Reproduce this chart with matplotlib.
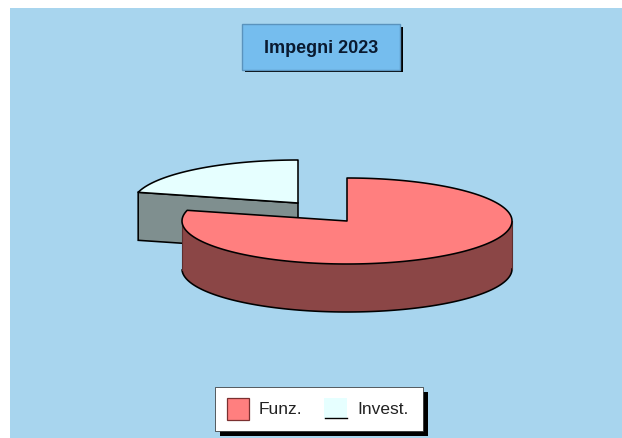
import matplotlib
matplotlib.use('Agg')
import matplotlib.pyplot as plt
from matplotlib.patches import Polygon, Rectangle
import numpy as np

labels = ['Funz.', 'Invest.']
values = [79, 21]
title = 'Impegni 2023'
colors = ['#ff7f7f', '#e6ffff']
side_colors = ['#8b4646', '#7f8f8f']

RX, RY, DEPTH = 165, 43, 48
LW = 1.15
# centres of the top faces in pixels, the small slice is pulled out
centers = [(347, 222), (298, 204)]

plt.rcParams['font.family'] = ['Liberation Sans', 'DejaVu Sans']

fig = plt.figure(figsize=(6.22, 4.39), dpi=100, facecolor='white')
ax = fig.add_axes([0, 0, 1, 1])
ax.set_xlim(0, 622)
ax.set_ylim(439, 0)
ax.axis('off')

ax.add_patch(Rectangle((10, 9), 612, 430, fc='#a8d5ee', ec='none', zorder=0))


def ell(cx, cy, a):
    # a in degrees clockwise from the top of the pie
    a = np.radians(a)
    return cx + RX * np.sin(a), cy - RY * np.cos(a)


def draw_slice(i, start, end, z):
    cx, cy = centers[i]
    a = np.linspace(start, end, 200)
    x, y = ell(cx, cy, a)

    # outer wall, only the part facing us
    front = (a >= 90) & (a <= 270)
    if front.any():
        xf, yf = x[front], y[front]
        wall = np.r_[np.c_[xf, yf], np.c_[xf, yf + DEPTH][::-1]]
        ax.add_patch(Polygon(wall, fc=side_colors[i], ec='none', zorder=z))
        ax.plot(xf, yf + DEPTH, color='black', lw=LW, zorder=z)
        ax.plot([xf[0], xf[0]], [yf[0], yf[0] + DEPTH], color='#5e2e2e', lw=0.8, zorder=z)
        ax.plot([xf[-1], xf[-1]], [yf[-1], yf[-1] + DEPTH], color='#5e2e2e', lw=0.8, zorder=z)

    # cut face of the pulled out slice
    if i == 1:
        xs, ys = x[0], y[0]
        cut = [(cx, cy), (xs, ys), (xs, ys + DEPTH), (cx, cy + DEPTH)]
        ax.add_patch(Polygon(cut, fc=side_colors[i], ec='black', lw=LW, zorder=z))

    top = np.r_[[(cx, cy)], np.c_[x, y]]
    ax.add_patch(Polygon(top, fc=colors[i], ec='black', lw=LW, joinstyle='round', zorder=z + 1))


angles = np.cumsum([0] + values) / sum(values) * 360
draw_slice(1, angles[1], angles[2], 2)
draw_slice(0, angles[0], angles[1], 4)

# title box
ax.add_patch(Rectangle((245, 28), 158, 45, fc='black', ec='none', zorder=6))
ax.add_patch(Rectangle((242, 25), 158, 46, fc='#75bdee', ec='#5a93bd', lw=1, zorder=7))
ax.text(321, 48.5, title, fontsize=13, fontweight='bold', color='#0a1a30',
        ha='center', va='center', zorder=8)

# legend box
ax.add_patch(Rectangle((220, 393), 208, 44, fc='black', ec='none', zorder=6))
ax.add_patch(Rectangle((215, 388), 208, 44, fc='white', ec='#222222', lw=0.5, zorder=7))
ax.add_patch(Rectangle((227, 399), 22, 22, fc=colors[0], ec='#7a3030', lw=0.9, zorder=8))
ax.add_patch(Rectangle((324, 399), 23, 21, fc=colors[1], ec='none', zorder=8))
ax.plot([325, 347], [419.5, 419.5], color='black', lw=1, zorder=9)
ax.text(259, 410, labels[0], fontsize=12.5, color='#222222', va='center', zorder=8)
ax.text(357, 410, labels[1], fontsize=12.5, color='#222222', va='center', zorder=8)

fig.savefig('out.png', dpi=100, facecolor='white')
